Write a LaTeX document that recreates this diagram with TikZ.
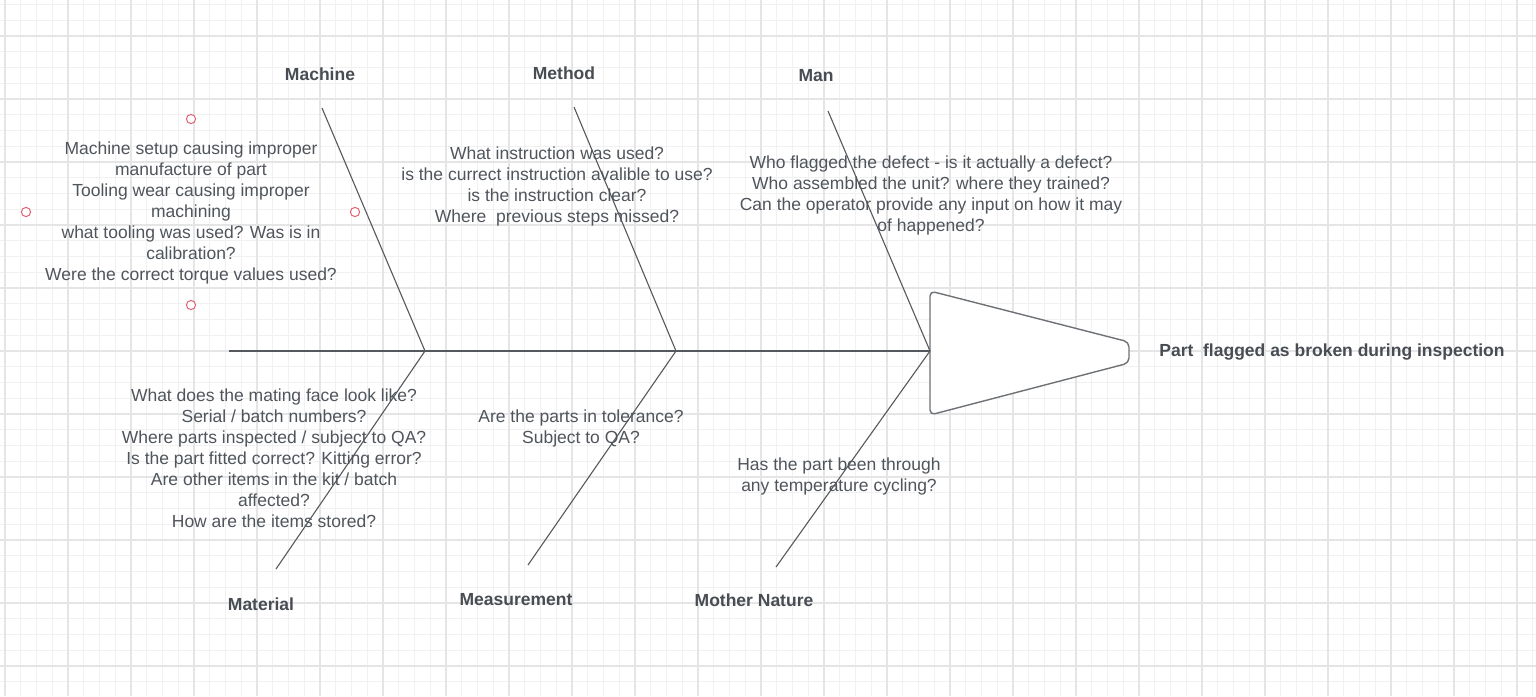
\documentclass[tikz,border=0pt]{standalone}
\usepackage{fontspec}
\setmainfont{Liberation Sans}
\usepackage{tikz}
\usetikzlibrary{positioning,calc}
\usepackage{xcolor}
\definecolor{gridminor}{HTML}{F1F1F1}
\definecolor{gridmajor}{HTML}{E5E5E5}
\definecolor{bonegray}{HTML}{55595E}
\definecolor{textgray}{HTML}{50555C}
\definecolor{handlered}{HTML}{E06272}
\tikzset{
  minorline/.style={draw=gridminor, line width=0.5pt},
  majorline/.style={draw=gridmajor, line width=0.75pt},
  bone/.style={draw=bonegray, line width=0.55pt},
  headshape/.style={draw=bonegray!85, fill=white, line width=0.7pt, rounded corners=2.5pt},
  cause/.style={
    text=textgray, align=center, inner sep=0pt,
    font=\fontsize{8.75}{10.5}\selectfont
  },
  category/.style={
    text=textgray!90!black, inner sep=0pt,
    font=\fontsize{8.75}{10.5}\selectfont\bfseries
  },
  handle/.style={draw=handlered, fill=white, line width=0.5pt}
}

\begin{document}
\begin{tikzpicture}[x=0.5pt, y=-0.5pt]
  \useasboundingbox (0,0) rectangle (1536,696);
  \fill[white] (0,0) rectangle (1536,696);

  % background grid
  \begin{scope}
    \clip (0,0) rectangle (1536,696);
    \foreach \i in {0,...,98} {
      \draw[minorline] ({5+15.75*\i},0) -- ++(0,696);
    }
    \foreach \i in {0,...,45} {
      \draw[minorline] (0,{4.5+15.75*\i}) -- ++(1536,0);
    }
    \foreach \i in {0,...,24} {
      \draw[majorline] ({5+63*\i},0) -- ++(0,696);
    }
    \foreach \i in {0,...,11} {
      \draw[majorline] (0,{36+63*\i}) -- ++(1536,0);
    }
  \end{scope}

  % spine and joints
  \coordinate (tail) at (229,351);
  \coordinate (j1) at (425,351);
  \coordinate (j2) at (676,351);
  \coordinate (j3) at (930,351);

  % bone ends
  \coordinate (machineEnd) at (322,108);
  \coordinate (methodEnd) at (574,107);
  \coordinate (manEnd) at (828,111);
  \coordinate (materialEnd) at (276,569);
  \coordinate (measureEnd) at (528,565);
  \coordinate (natureEnd) at (776,567);

  % head
  \draw[headshape] (930,291) -- (1129,342) -- (1129,363) -- (930,415) -- cycle;

  \draw[bone] (tail) -- (j3);
  \draw[bone] (machineEnd) -- (j1);
  \draw[bone] (methodEnd) -- (j2);
  \draw[bone] (manEnd) -- (j3);
  \draw[bone] (materialEnd) -- (j1);
  \draw[bone] (measureEnd) -- (j2);
  \draw[bone] (natureEnd) -- (j3);

  % category labels
  \node[category] (machine) at (320,74) {Machine};
  \node[category] (method) at (564,73) {Method};
  \node[category] (man) at (816,76) {Man};
  \node[category] (material) at (261,604) {Material};
  \node[category] (measurement) at (516,600) {Measurement};
  \node[category] (nature) at (754,600) {Mother Nature};
  \node[category, anchor=west] (effect) at (1159,352) {Part\ \ flagged as broken during inspection};

  % causes
  \node[cause] (machineCauses) at (191,213) {Machine setup causing improper\\manufacture of part\\Tooling wear causing improper\\machining\\what tooling was used? Was is in\\calibration?\\Were the correct torque values used?};
  \node[cause] (methodCauses) at (557,186) {What instruction was used?\\is the currect instruction avalible to use?\\is the instruction clear?\\Where\ \ previous steps missed?};
  \node[cause] (manCauses) at (931,195) {Who flagged the defect - is it actually a defect?\\Who assembled the unit? where they trained?\\Can the operator provide any input on how it may\\of happened?};
  \node[cause] (materialCauses) at (274,458) {What does the mating face look like?\\Serial / batch numbers?\\Where parts inspected / subject to QA?\\Is the part fitted correct? Kitting error?\\Are other items in the kit / batch\\affected?\\How are the items stored?};
  \node[cause] (measureCauses) at (581,428) {Are the parts in tolerance?\\Subject to QA?};
  \node[cause] (natureCauses) at (839,476) {Has the part been through\\any temperature cycling?};

  % selection handles
  \foreach \p in {(191,119),(26,212),(355,212),(191,305)} {
    \draw[handle] \p circle (2.3pt);
  }
\end{tikzpicture}
\end{document}
